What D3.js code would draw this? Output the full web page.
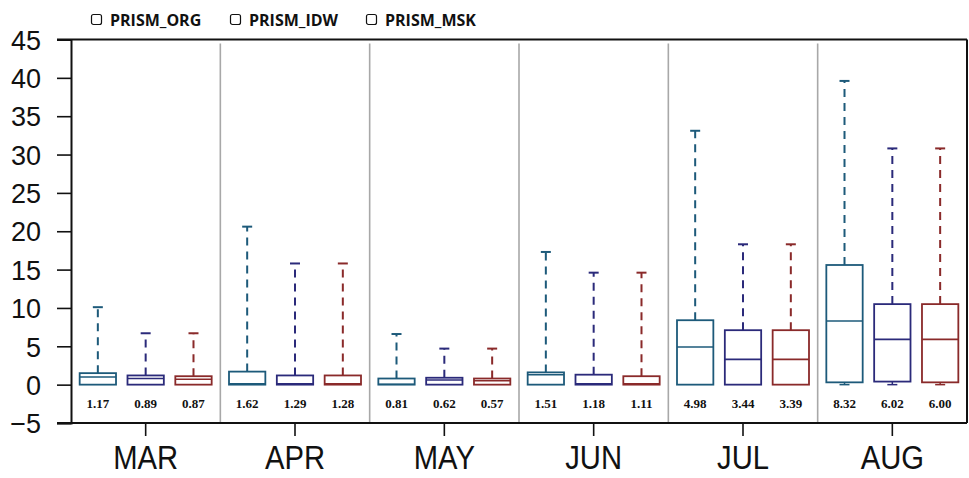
<!DOCTYPE html>
<html><head><meta charset="utf-8">
<script src="https://cdn.jsdelivr.net/npm/d3@7"></script>
<style>body{margin:0;background:#fff}svg{display:block}</style>
</head><body>
<svg id="chart" width="969" height="478"></svg>
<script>
const months = ["MAR","APR","MAY","JUN","JUL","AUG"];
const seriesNames = ["PRISM_ORG","PRISM_IDW","PRISM_MSK"];
const seriesColors = ["#1d5a7a","#2b2a7a","#8a2a2a"];
const yTicks = [-5,0,5,10,15,20,25,30,35,40,45];

// box statistics per series, one value per month
const whiskerLow = {
  PRISM_ORG: [0,0,0,0,0,0],
  PRISM_IDW: [0,0,0,0,0,0],
  PRISM_MSK: [0,0,0,0,0,0]
};
const q1 = {
  PRISM_ORG: [0,0,0,0,0,0.3],
  PRISM_IDW: [0,0,0,0,0,0.4],
  PRISM_MSK: [0,0,0,0,0,0.3]
};
const median = {
  PRISM_ORG: [1.0,0.1,0.05,1.3,4.9,8.3],
  PRISM_IDW: [0.8,0.1,0.6,0.1,3.3,5.9],
  PRISM_MSK: [0.7,0.1,0.5,0.1,3.3,5.9]
};
const q3 = {
  PRISM_ORG: [1.5,1.7,0.8,1.6,8.4,15.6],
  PRISM_IDW: [1.2,1.2,0.9,1.3,7.1,10.5],
  PRISM_MSK: [1.1,1.2,0.8,1.1,7.1,10.5]
};
const whiskerHigh = {
  PRISM_ORG: [10.1,20.6,6.6,17.3,33.1,39.6],
  PRISM_IDW: [6.7,15.8,4.7,14.6,18.3,30.8],
  PRISM_MSK: [6.7,15.8,4.7,14.6,18.3,30.8]
};
const means = {
  PRISM_ORG: ["1.17","1.62","0.81","1.51","4.98","8.32"],
  PRISM_IDW: ["0.89","1.29","0.62","1.18","3.44","6.02"],
  PRISM_MSK: ["0.87","1.28","0.57","1.11","3.39","6.00"]
};

const svg = d3.select("#chart");
const plotLeft = 71, plotRight = 967, plotTop = 39.5, plotBottom = 423;

const y = d3.scaleLinear().domain([-5,45]).range([plotBottom, plotTop]);
const x = d3.scaleBand().domain(months).range([plotLeft, plotRight]).padding(0);
const xs = d3.scaleBand().domain(seriesNames).range([-66, 66]).paddingInner(0.24);

// month dividers
svg.append("g").selectAll("line").data(months.slice(1)).join("line")
  .attr("x1", d => x(d)).attr("x2", d => x(d))
  .attr("y1", plotTop + 4).attr("y2", plotBottom)
  .attr("stroke", "#a8a8a8").attr("stroke-width", 1.6);

// frame
svg.append("line").attr("x1", 57).attr("x2", plotRight).attr("y1", plotTop).attr("y2", plotTop)
  .attr("stroke", "#111").attr("stroke-width", 2);
svg.append("line").attr("x1", 57).attr("x2", plotRight).attr("y1", plotBottom).attr("y2", plotBottom)
  .attr("stroke", "#111").attr("stroke-width", 2);
svg.append("line").attr("x1", plotRight).attr("x2", plotRight).attr("y1", plotTop).attr("y2", plotBottom)
  .attr("stroke", "#111").attr("stroke-width", 2);

// y axis
const yAxis = d3.axisLeft(y).tickValues(yTicks).tickSize(14).tickPadding(16).tickFormat(d3.format("d"));
const gy = svg.append("g").attr("transform", `translate(${plotLeft},0)`).call(yAxis);
gy.select(".domain").attr("stroke", "#111").attr("stroke-width", 2);
gy.selectAll(".tick line").attr("stroke", "#111").attr("stroke-width", 1.6);
gy.selectAll(".tick text").attr("font-family", "Liberation Sans, Arial, sans-serif")
  .attr("font-size", 27).attr("fill", "#111").attr("dy", "0.36em");

// x axis
const xAxis = d3.axisBottom(x).tickSize(13).tickPadding(9);
const gx = svg.append("g").attr("transform", `translate(0,${plotBottom})`).call(xAxis);
gx.select(".domain").remove();
gx.selectAll(".tick line").attr("stroke", "#111").attr("stroke-width", 1.6);
gx.selectAll(".tick text").attr("font-family", "Liberation Sans, Arial, sans-serif")
  .attr("font-size", 34).attr("fill", "#111")
  .attr("transform", "scale(0.86,1)");

// boxes
const boxW = xs.bandwidth();
const boxes = [];
months.forEach((m, i) => {
  seriesNames.forEach((s, j) => {
    boxes.push({m, s, j, lo: whiskerLow[s][i], q1: q1[s][i], med: median[s][i], q3: q3[s][i], hi: whiskerHigh[s][i], mean: means[s][i]});
  });
});
const cx = d => x(d.m) + x.bandwidth() / 2 + xs(d.s) + boxW / 2;

const g = svg.append("g");
const bg = g.selectAll("g.box").data(boxes).join("g").attr("class", "box");

// upper whisker
bg.append("line")
  .attr("x1", cx).attr("x2", cx)
  .attr("y1", d => y(d.q3)).attr("y2", d => y(d.hi))
  .attr("stroke", d => seriesColors[d.j]).attr("stroke-width", 2)
  .attr("stroke-dasharray", "8,6");
bg.append("line")
  .attr("x1", d => cx(d) - 5).attr("x2", d => cx(d) + 5)
  .attr("y1", d => y(d.hi)).attr("y2", d => y(d.hi))
  .attr("stroke", d => seriesColors[d.j]).attr("stroke-width", 2);
// lower whisker
bg.filter(d => d.q1 > d.lo).append("line")
  .attr("x1", cx).attr("x2", cx)
  .attr("y1", d => y(d.q1)).attr("y2", d => y(d.lo))
  .attr("stroke", d => seriesColors[d.j]).attr("stroke-width", 1.5);
bg.filter(d => d.q1 > d.lo).append("line")
  .attr("x1", d => cx(d) - 5).attr("x2", d => cx(d) + 5)
  .attr("y1", d => y(d.lo)).attr("y2", d => y(d.lo))
  .attr("stroke", d => seriesColors[d.j]).attr("stroke-width", 1.5);
// box
bg.append("rect")
  .attr("x", d => cx(d) - boxW / 2).attr("width", boxW)
  .attr("y", d => y(d.q3)).attr("height", d => y(d.q1) - y(d.q3))
  .attr("fill", "#fff").attr("stroke", d => seriesColors[d.j]).attr("stroke-width", 1.8);
// median
bg.append("line")
  .attr("x1", d => cx(d) - boxW / 2).attr("x2", d => cx(d) + boxW / 2)
  .attr("y1", d => y(d.med)).attr("y2", d => y(d.med))
  .attr("stroke", d => seriesColors[d.j]).attr("stroke-width", 1.6);
// mean labels
bg.append("text")
  .attr("x", cx).attr("y", 408)
  .attr("text-anchor", "middle")
  .attr("font-family", "Liberation Serif, Times New Roman, serif")
  .attr("font-weight", "bold").attr("font-size", 13).attr("fill", "#111")
  .text(d => d.mean);

// legend
const legendX = [91, 230, 366];
const lg = svg.append("g").selectAll("g").data(seriesNames).join("g")
  .attr("transform", (d, i) => `translate(${legendX[i]},0)`);
lg.append("rect").attr("x", 0.5).attr("y", 14.5).attr("width", 10).attr("height", 10).attr("rx", 2)
  .attr("fill", "#fff").attr("stroke", "#111").attr("stroke-width", 1.2);
lg.append("text").attr("x", 19).attr("y", 26)
  .attr("font-family", "Open Sans, Noto Sans, sans-serif").attr("font-weight", "bold")
  .attr("font-size", 16).attr("fill", "#111").text(d => d);
</script>
</body></html>
